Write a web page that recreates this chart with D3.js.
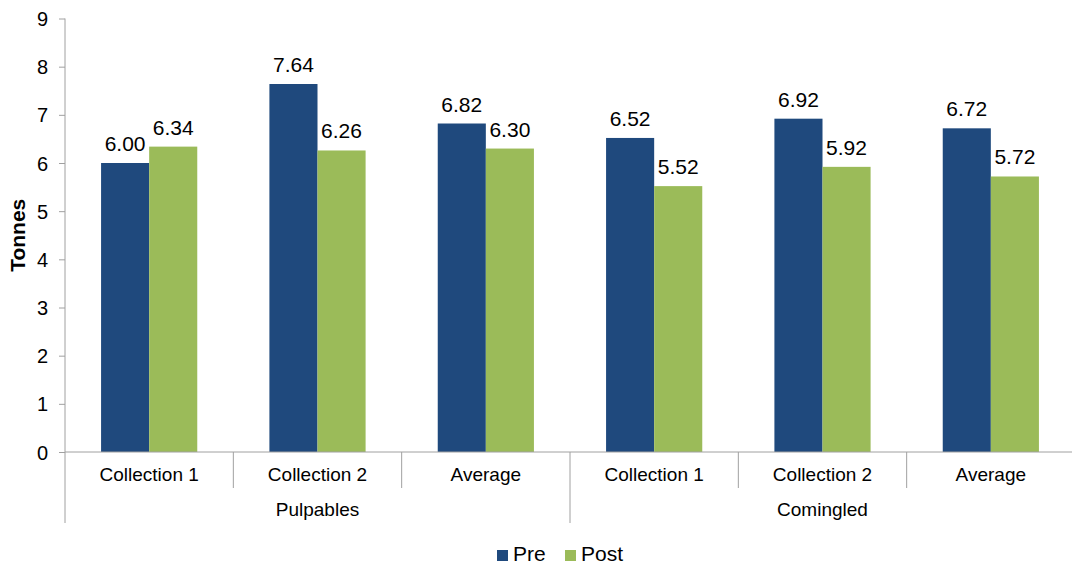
<!DOCTYPE html>
<html><head><meta charset="utf-8">
<script src="https://cdn.jsdelivr.net/npm/d3@7"></script>
<style>body{margin:0;background:#fff}text{font-family:"Liberation Sans",Arial,sans-serif;fill:#000}</style>
</head><body><svg id="c" width="1072" height="568"></svg>
<script>
const groups = ["Pulpables", "Comingled"];
const subcats = ["Collection 1", "Collection 2", "Average"];
const series = ["Pre", "Post"];
const preValues = [6.00, 7.64, 6.82, 6.52, 6.92, 6.72];
const postValues = [6.34, 6.26, 6.30, 5.52, 5.92, 5.72];
const yTicks = [0,1,2,3,4,5,6,7,8,9];
const colors = ["#1F497D", "#9BBB59"];

(function () {
const svg = d3.select("#c");
const pLeft = 65, pRight = 1075, pTop = 18.5, pBottom = 452;
const cats = [];
groups.forEach(g => subcats.forEach(s => cats.push({g, s, key: g + "|" + s})));
const data = cats.map((c, i) => ({...c, vals: [preValues[i], postValues[i]]}));

const x0 = d3.scaleBand().domain(cats.map(c => c.key)).range([pLeft, pRight]).padding(0);
const bw = x0.bandwidth();
const x1 = d3.scaleBand().domain(series).range([bw * 0.2143, bw * 0.7857]).padding(0);
const y = d3.scaleLinear().domain([0, 9]).range([pBottom, pTop]);
const axisColor = "#A0A0A0";

// y axis
const ya = svg.append("g").attr("transform", `translate(${pLeft},0)`)
  .call(d3.axisLeft(y).tickValues(yTicks).tickSize(6).tickPadding(11).tickFormat(d3.format("d")));
ya.select(".domain").remove();
ya.selectAll("line").attr("stroke", axisColor);
ya.selectAll("text").style("font-size", "20px").attr("fill", "#000").attr("dy", "0.35em");
svg.append("line").attr("x1", pLeft).attr("x2", pLeft).attr("y1", pTop).attr("y2", 523).attr("stroke", axisColor);

// bars
const g = svg.append("g");
data.forEach((d, i) => {
  series.forEach((s, j) => {
    g.append("rect").attr("x", x0(d.key) + x1(s)).attr("width", x1.bandwidth())
      .attr("y", y(d.vals[j])).attr("height", y(0) - y(d.vals[j])).attr("fill", colors[j]);
    svg.append("text").attr("x", x0(d.key) + x1(s) + x1.bandwidth() / 2).attr("y", y(d.vals[j]) - 12)
      .attr("text-anchor", "middle").style("font-size", "21px").text(d.vals[j].toFixed(2));
  });
});

// x axis
svg.append("line").attr("x1", pLeft).attr("x2", pRight).attr("y1", pBottom).attr("y2", pBottom).attr("stroke", axisColor);
cats.forEach((c, i) => {
  if (i > 0) {
    const isGroup = i % subcats.length === 0;
    svg.append("line").attr("x1", x0(c.key)).attr("x2", x0(c.key)).attr("y1", pBottom)
      .attr("y2", isGroup ? 523 : 488).attr("stroke", axisColor);
  }
  svg.append("text").attr("x", x0(c.key) + bw / 2).attr("y", 481).attr("text-anchor", "middle")
    .style("font-size", "19px").text(c.s);
});
groups.forEach((gname, gi) => {
  const first = x0(cats[gi * subcats.length].key);
  svg.append("text").attr("x", first + bw * subcats.length / 2).attr("y", 516).attr("text-anchor", "middle")
    .style("font-size", "19px").text(gname);
});

// y title
svg.append("text").attr("transform", `translate(25,${(pTop + pBottom) / 2}) rotate(-90)`).attr("text-anchor", "middle")
  .style("font-size", "21px").style("font-weight", "bold").text("Tonnes");

// legend
const legX = [497, 565];
series.forEach((s, j) => {
  svg.append("rect").attr("x", legX[j]).attr("y", 550).attr("width", 11).attr("height", 11).attr("fill", colors[j]);
  svg.append("text").attr("x", legX[j] + 16).attr("y", 561).style("font-size", "21px").text(s);
});
})();
</script></body></html>
